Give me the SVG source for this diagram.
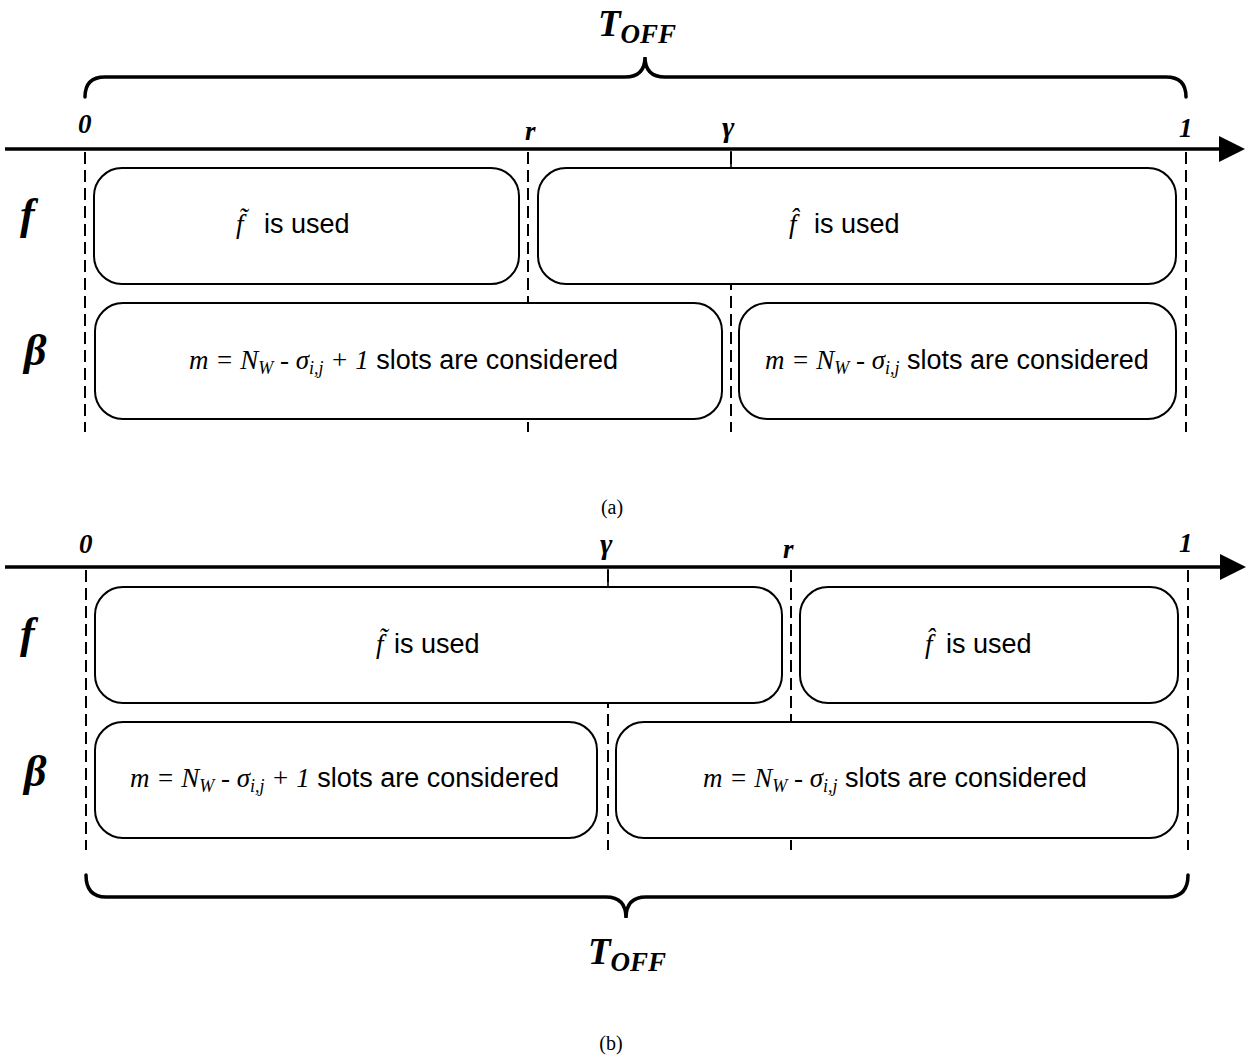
<svg xmlns="http://www.w3.org/2000/svg" width="1248" height="1058" viewBox="0 0 1248 1058">
<style>
.bg{fill:#fff}
.box{fill:#fff;stroke:#000;stroke-width:2}
.axis{stroke:#000;stroke-width:3.5;fill:none}
.brace{stroke:#000;stroke-width:3.5;fill:none;stroke-linecap:round}
.dash{stroke:#000;stroke-width:2;stroke-dasharray:12 6;fill:none}
.tick{stroke:#000;stroke-width:1.6}
.lab{font-family:"Liberation Serif",serif;font-style:italic;font-weight:bold;font-size:27px}
.g{font-size:30px}
.row{font-family:"Liberation Serif",serif;font-style:italic;font-weight:bold;font-size:44px}
.toff{font-family:"Liberation Serif",serif;font-style:italic;font-weight:bold;font-size:37px}
.sub25{font-size:27px}
.cap{font-family:"Liberation Serif",serif;font-size:20px;text-anchor:middle}
.m{font-family:"Liberation Serif",serif;font-style:italic;font-size:27px}
.s{font-size:18px}
.sans{font-family:"Liberation Sans",Arial,sans-serif;font-style:normal;font-size:27px}
</style>
<defs>
<marker id="arr" viewBox="0 0 26 26" refX="0" refY="13" markerWidth="26" markerHeight="26" markerUnits="userSpaceOnUse" orient="auto">
<path d="M0,0 L26,13 L0,26 Z" fill="#000"/>
</marker>
</defs>
<rect class="bg" x="0" y="0" width="1248" height="1058"/>

<g id="braces">
<path class="brace" d="M85,97 Q85,77 105,77 L625,77 Q645,77 645,57 Q645,77 665,77 L1166,77 Q1186,77 1186,97"/>
<path class="brace" d="M86,875 Q86,897 106,897 L606,897 Q626,897 626,918 Q626,897 646,897 L1168,897 Q1188,897 1188,875"/>
</g>

<g id="connectors">
<line class="axis" x1="5" y1="149" x2="1219" y2="149" marker-end="url(#arr)"/>
<line class="dash" x1="85" y1="152" x2="85" y2="432"/>
<line class="dash" x1="528" y1="152" x2="528" y2="432"/>
<line class="dash" x1="731" y1="152" x2="731" y2="432"/>
<line class="dash" x1="1186" y1="152" x2="1186" y2="432"/>
<line class="tick" x1="731" y1="151" x2="731" y2="168"/>

<line class="axis" x1="5" y1="567" x2="1220" y2="567" marker-end="url(#arr)"/>
<line class="dash" x1="86" y1="570" x2="86" y2="850"/>
<line class="dash" x1="608" y1="570" x2="608" y2="850"/>
<line class="dash" x1="791" y1="570" x2="791" y2="850"/>
<line class="dash" x1="1188" y1="570" x2="1188" y2="850"/>
<line class="tick" x1="608" y1="569" x2="608" y2="587"/>
</g>

<g id="labels-a">
<text class="toff" x="598" y="36">T<tspan class="sub25" dy="7">OFF</tspan></text>
<text class="lab" x="78" y="133">0</text>
<text class="lab" x="525" y="140">r</text>
<text class="lab g" x="722" y="137">γ</text>
<text class="lab" x="1179" y="137">1</text>
<text class="row" x="20" y="229">f</text>
<text class="row" x="24" y="365">β</text>
<text class="cap" x="612" y="514">(a)</text>
</g>

<g id="node-a-f-tilde">
<rect class="box" x="94" y="168" width="425" height="116" rx="28"/>
<text class="m" x="236" y="233">f&#x303;<tspan class="sans" x="264">is used</tspan></text>
</g>
<g id="node-a-f-hat">
<rect class="box" x="538" y="168" width="638" height="116" rx="28"/>
<text class="m" x="789" y="233">f&#x302;<tspan class="sans" x="814">is used</tspan></text>
</g>
<g id="node-a-beta-1">
<rect class="box" x="95" y="303" width="627" height="116" rx="28"/>
<text class="m" x="189" y="369">m = N<tspan class="s" dy="5">W</tspan><tspan dy="-5"> - σ</tspan><tspan class="s" dy="5">i,j</tspan><tspan dy="-5"> + 1</tspan><tspan class="sans"> slots are considered</tspan></text>
</g>
<g id="node-a-beta-2">
<rect class="box" x="739" y="303" width="437" height="116" rx="28"/>
<text class="m" x="765" y="369">m = N<tspan class="s" dy="5">W</tspan><tspan dy="-5"> - σ</tspan><tspan class="s" dy="5">i,j</tspan><tspan class="sans" dy="-5"> slots are considered</tspan></text>
</g>

<g id="labels-b">
<text class="lab" x="79" y="553">0</text>
<text class="lab g" x="600" y="554">γ</text>
<text class="lab" x="783" y="558">r</text>
<text class="lab" x="1179" y="552">1</text>
<text class="row" x="20" y="648">f</text>
<text class="row" x="24" y="786">β</text>
<text class="toff" x="588" y="964">T<tspan class="sub25" dy="7">OFF</tspan></text>
<text class="cap" x="611" y="1050">(b)</text>
</g>

<g id="node-b-f-tilde">
<rect class="box" x="95" y="587" width="687" height="116" rx="28"/>
<text class="m" x="376" y="653">f&#x303;<tspan class="sans" x="394">is used</tspan></text>
</g>
<g id="node-b-f-hat">
<rect class="box" x="800" y="587" width="378" height="116" rx="28"/>
<text class="m" x="925" y="653">f&#x302;<tspan class="sans" x="946">is used</tspan></text>
</g>
<g id="node-b-beta-1">
<rect class="box" x="95" y="722" width="502" height="116" rx="28"/>
<text class="m" x="130" y="787">m = N<tspan class="s" dy="5">W</tspan><tspan dy="-5"> - σ</tspan><tspan class="s" dy="5">i,j</tspan><tspan dy="-5"> + 1</tspan><tspan class="sans"> slots are considered</tspan></text>
</g>
<g id="node-b-beta-2">
<rect class="box" x="616" y="722" width="562" height="116" rx="28"/>
<text class="m" x="703" y="787">m = N<tspan class="s" dy="5">W</tspan><tspan dy="-5"> - σ</tspan><tspan class="s" dy="5">i,j</tspan><tspan class="sans" dy="-5"> slots are considered</tspan></text>
</g>
</svg>
